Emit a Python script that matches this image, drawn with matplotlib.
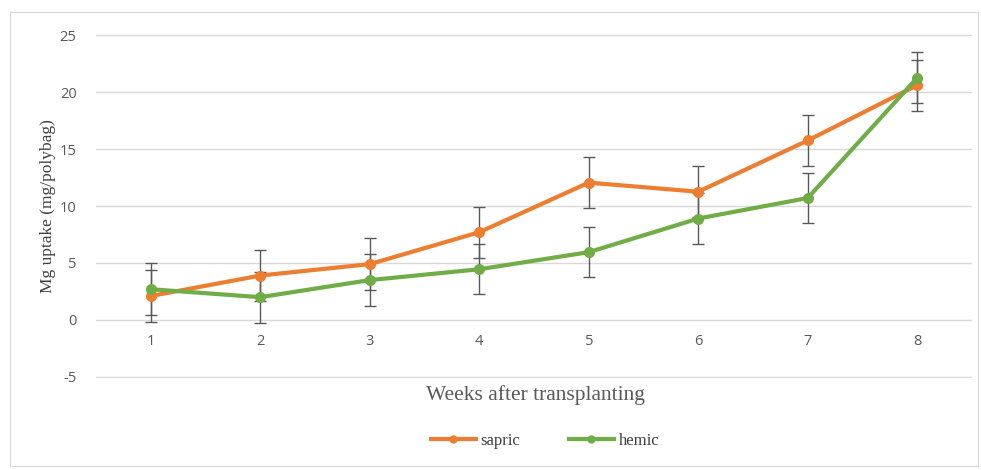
import matplotlib
matplotlib.use("Agg")
import matplotlib.pyplot as plt
from matplotlib.patches import Rectangle
from matplotlib.lines import Line2D

plt.rcParams["axes.unicode_minus"] = False

weeks = [1, 2, 3, 4, 5, 6, 7, 8]
sapric = [2.1, 3.9, 4.9, 7.7, 12.05, 11.25, 15.75, 20.6]
hemic = [2.7, 2.0, 3.5, 4.45, 5.95, 8.9, 10.7, 21.25]
sapric_err = [2.3, 2.25, 2.3, 2.25, 2.25, 2.25, 2.25, 2.25]
hemic_err = [2.3, 2.25, 2.25, 2.2, 2.2, 2.25, 2.2, 2.22]
yticks = [-5, 0, 5, 10, 15, 20, 25]

fig = plt.figure(figsize=(9.81, 4.70), dpi=100)
fig.patches.append(Rectangle((10/981, 1-466/470), 968/981, 454/470, transform=fig.transFigure,
                             fill=False, edgecolor="#D9D9D9", linewidth=0.8))
ax = fig.add_axes([96/981, 1-378/470, 876/981, 344/470])

orange = "#ED7D31"
green = "#70AD47"
ecol = "#595959"

ax.errorbar(weeks, sapric, yerr=sapric_err, color=orange, linewidth=3.0, marker="o",
            markersize=7, ecolor=ecol, elinewidth=1.0, capsize=4.5, capthick=1.0, zorder=3)
ax.errorbar(weeks, hemic, yerr=hemic_err, color=green, linewidth=3.0, marker="o",
            markersize=7, ecolor=ecol, elinewidth=1.0, capsize=4.5, capthick=1.0, zorder=3)

ax.set_xlim(0.5, 8.5)
ax.set_ylim(-5.09, 25.09)
ax.set_yticks(yticks)
ax.set_xticks(weeks)
ax.grid(axis="y", color="#D9D9D9", linewidth=1.0)
ax.set_axisbelow(True)
ax.spines["bottom"].set_position(("data", 0))
for s in ax.spines.values():
    s.set_visible(False)
ax.tick_params(length=0, labelsize=10.5, labelcolor="#595959")
ax.tick_params(axis="y", pad=14)
ax.tick_params(axis="x", pad=10)
for lab in ax.get_xticklabels() + ax.get_yticklabels():
    lab.set_family("Open Sans")

ax.set_ylabel("Mg uptake (mg/polybag)", family="Liberation Serif", fontsize=12.5,
              color="#404040", labelpad=3)
fig.text(535/981, 1-395/470, "Weeks after transplanting", family="Liberation Serif",
         fontsize=15.5, color="#595959", ha="center", va="center")

handles = [Line2D([], [], color=orange, linewidth=3.0, marker="o", markersize=5),
           Line2D([], [], color=green, linewidth=3.0, marker="o", markersize=5)]
leg = fig.legend(handles, ["sapric", "hemic"], loc="center",
                 bbox_to_anchor=(545/981, 1-441/470), ncol=2, frameon=False,
                 prop={"family": "Liberation Serif", "size": 12}, handlelength=2.7,
                 columnspacing=2.9, handletextpad=0.3)
for t in leg.get_texts():
    t.set_color("#404040")

fig.savefig("out.png", dpi=100)
